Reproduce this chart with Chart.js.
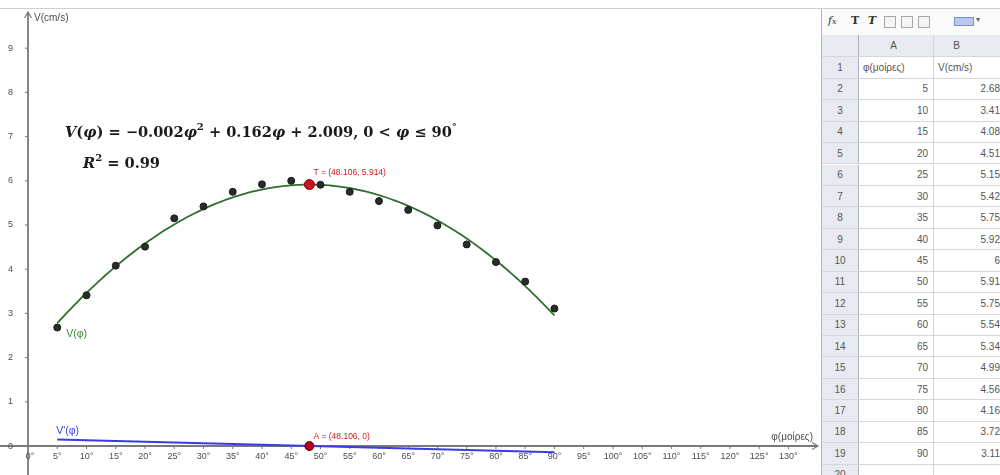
<!DOCTYPE html>
<html>
<head>
<meta charset="utf-8">
<script src="https://cdn.jsdelivr.net/npm/chart.js@4/dist/chart.umd.min.js"></script>
<style>
  html, body { margin: 0; padding: 0; background: #fff; width: 1000px; height: 475px; overflow: hidden; }
  body { position: relative; font-family: "Liberation Sans", Arial, sans-serif; }
  #topline { position: absolute; left: 0; top: 8px; width: 1000px; height: 1px; background: #cfcfcf; }
  #plot { position: absolute; left: 0; top: 0; width: 820px; height: 475px; }
  #plot canvas { display: block; }
  #sheet { position: absolute; left: 821px; top: 9px; width: 179px; height: 466px; border-left: 1px solid #b5b5b5; overflow: hidden; background: #fff; }
  .tb { position: absolute; top: 0; left: 0; width: 179px; height: 26px; background: #fafafa; border-bottom: 1px solid #c9c9c9; }
  .tb span { position: absolute; top: 5px; color: #333; }
  .tb .box { position: absolute; top: 7px; width: 10px; height: 10px; border: 1px solid #a9a9a9; background: #f4f4f4; }
  .row { position: absolute; left: 0; width: 179px; border-bottom: 1px solid #d6d6d6; font-size: 10px; color: #555; }
  .row div { position: absolute; top: 0; bottom: 0; box-sizing: border-box; white-space: nowrap; overflow: hidden; display: flex; align-items: center; }
  .rh { left: 0; width: 37px; background: #e7ebf1; border-right: 1px solid #a9b2c0; justify-content: center; }
  .ca { left: 37px; width: 75px; border-right: 1px solid #d6d6d6; justify-content: flex-end; padding-right: 5px; }
  .cb { left: 112px; width: 67px; justify-content: flex-end; padding-right: 1px; }
  .hdr div { background: #e7ebf1; justify-content: center; }
  .hdr .cb { padding-right: 22px; }
  .lft { justify-content: flex-start !important; padding-left: 4px; }
</style>
</head>
<body>
<div id="topline"></div>
<div id="plot"><canvas id="chart" width="820" height="475"></canvas></div>
<div id="sheet">
  <div class="tb">
    <span style="left:6px;font:italic 11px 'DejaVu Serif';">f<span style="position:static;font-size:8px;">x</span></span>
    <span style="left:29px;font:bold 11px 'DejaVu Serif';">T</span>
    <span style="left:46px;font:italic bold 11px 'DejaVu Serif';">T</span>
    <div class="box" style="left:62px;"></div>
    <div class="box" style="left:79px;"></div>
    <div class="box" style="left:96px;"></div>
    <div class="box" style="left:132px;width:18px;height:7px;top:8px;background:#bcc8ee;border-color:#7f8fc8;"></div>
    <span style="left:154px;top:6px;font-size:8px;color:#666;">▾</span>
  </div>
  <div id="cells"></div>
</div>
<script>
// Measurements: angle of the incline (degrees) and measured speed (cm/s)
const PHI = [5, 10, 15, 20, 25, 30, 35, 40, 45, 50, 55, 60, 65, 70, 75, 80, 85, 90];
const SPEED = [2.68, 3.41, 4.08, 4.51, 5.15, 5.42, 5.75, 5.92, 6, 5.91, 5.75, 5.54, 5.34, 4.99, 4.56, 4.16, 3.72, 3.11];

// Axis tick values
const X_TICKS = [0, 5, 10, 15, 20, 25, 30, 35, 40, 45, 50, 55, 60, 65, 70, 75, 80, 85, 90, 95, 100, 105, 110, 115, 120, 125, 130];
const Y_TICKS = [0, 1, 2, 3, 4, 5, 6, 7, 8, 9];

// Column headings of the spreadsheet
const COL_HEAD = ['φ(μοίρες)', 'V(cm/s)'];

// Named points: vertex T of the fitted parabola and its projection A on the φ axis
const T_POINT = { phi: 48.106, v: 5.914 };
const A_POINT = { phi: 48.106, v: 0 };

// Visible window of the graphics view
const VIEW = { xMin: -4.79, xMax: 135.4, yMin: -0.656, yMax: 10.09 };

// ---- spreadsheet ----
(function buildSheet() {
  const host = document.getElementById('cells');
  const HDR_TOP = 26, HDR_H = 22, ROW_TOP = 48.3, ROW_H = 21.44;
  const mk = (top, h, cls, cells) => {
    const r = document.createElement('div');
    r.className = 'row ' + cls;
    r.style.top = top + 'px';
    r.style.height = (h - 1) + 'px';
    cells.forEach(([c, t]) => {
      const d = document.createElement('div');
      d.className = c;
      d.textContent = t;
      r.appendChild(d);
    });
    host.appendChild(r);
  };
  mk(HDR_TOP, HDR_H, 'hdr', [['rh', ''], ['ca', 'A'], ['cb', 'B']]);
  mk(ROW_TOP, ROW_H, '', [['rh', '1'], ['ca lft', COL_HEAD[0]], ['cb lft', COL_HEAD[1]]]);
  PHI.forEach((p, i) => {
    mk(ROW_TOP + (i + 1) * ROW_H, ROW_H, '', [['rh', String(i + 2)], ['ca', String(p)], ['cb', String(SPEED[i])]]);
  });
  mk(ROW_TOP + (PHI.length + 1) * ROW_H, ROW_H, '', [['rh', String(PHI.length + 2)], ['ca', ''], ['cb', '']]);
})();

// ---- least-squares quadratic through the measurements ----
function quadFit(xs, ys) {
  const S = [0, 0, 0, 0, 0], R = [0, 0, 0];
  xs.forEach((x, i) => {
    let p = 1;
    for (let k = 0; k < 5; k++) { S[k] += p; if (k < 3) R[k] += ys[i] * p; p *= x; }
  });
  const M = [[S[0], S[1], S[2], R[0]], [S[1], S[2], S[3], R[1]], [S[2], S[3], S[4], R[2]]];
  for (let c = 0; c < 3; c++) {
    for (let r = c + 1; r < 3; r++) {
      const f = M[r][c] / M[c][c];
      for (let k = c; k < 4; k++) M[r][k] -= f * M[c][k];
    }
  }
  const sol = [0, 0, 0];
  for (let r = 2; r >= 0; r--) {
    let s = M[r][3];
    for (let k = r + 1; k < 3; k++) s -= M[r][k] * sol[k];
    sol[r] = s / M[r][r];
  }
  return { c: sol[0], b: sol[1], a: sol[2] };
}
const FIT = quadFit(PHI, SPEED);
const V = p => FIT.a * p * p + FIT.b * p + FIT.c;
const dV = p => 2 * FIT.a * p + FIT.b;

const curve = [];
for (let p = PHI[0]; p <= PHI[PHI.length - 1] + 1e-9; p += 0.5) curve.push({ x: p, y: V(p) });
const slope = [PHI[0], PHI[PHI.length - 1]].map(p => ({ x: p, y: dV(p) }));

// ---- colours and fonts ----
const AXIS = '#7a7a7a';
const TICK_FONT = '9px "Liberation Sans", Arial, sans-serif';
const GREEN = '#2f6f2f';
const BLUE = '#3b3be6';
const RED = '#d01818';

const axesPlugin = {
  id: 'geoAxes',
  beforeDatasetsDraw(chart) {
    const { ctx, chartArea: ca, scales: { x, y } } = chart;
    const x0 = x.getPixelForValue(0), y0 = y.getPixelForValue(0);
    ctx.save();
    ctx.strokeStyle = AXIS;
    ctx.fillStyle = AXIS;
    ctx.lineWidth = 1.8;
    const xEnd = ca.right - 2, yEnd = ca.top + 12;
    ctx.beginPath();
    ctx.moveTo(ca.left, y0); ctx.lineTo(xEnd, y0);
    ctx.moveTo(x0, ca.bottom); ctx.lineTo(x0, yEnd);
    ctx.stroke();
    // arrow heads
    ctx.lineWidth = 1.2;
    ctx.beginPath();
    ctx.moveTo(xEnd - 6, y0 - 3.5); ctx.lineTo(xEnd, y0); ctx.lineTo(xEnd - 6, y0 + 3.5);
    ctx.moveTo(x0 - 3.5, yEnd + 6); ctx.lineTo(x0, yEnd); ctx.lineTo(x0 + 3.5, yEnd + 6);
    ctx.stroke();
    // ticks and labels
    ctx.font = TICK_FONT;
    ctx.fillStyle = '#4d4d4d';
    ctx.lineWidth = 1;
    ctx.textAlign = 'center';
    ctx.textBaseline = 'middle';
    X_TICKS.forEach(v => {
      const px = x.getPixelForValue(v);
      if (v !== 0) { ctx.beginPath(); ctx.moveTo(px, y0); ctx.lineTo(px, y0 + 3); ctx.stroke(); }
      ctx.fillText(v + '°', px + (v === 0 ? 2 : 0), y0 + 11);
    });
    ctx.textAlign = 'right';
    Y_TICKS.forEach(v => {
      const py = y.getPixelForValue(v);
      if (v !== 0) { ctx.beginPath(); ctx.moveTo(x0 - 3, py); ctx.lineTo(x0, py); ctx.stroke(); }
      ctx.fillText(String(v), x0 - 15, py + (v === 0 ? 1 : 0));
    });
    // axis titles
    ctx.font = '10px "Liberation Sans", Arial, sans-serif';
    ctx.textAlign = 'left';
    ctx.textBaseline = 'alphabetic';
    ctx.fillText('V(cm/s)', x0 + 6, ca.top + 21);
    ctx.textAlign = 'right';
    ctx.fillText('φ(μοίρες)', xEnd - 5, y0 - 6);
    ctx.restore();
  }
};

function drawRich(ctx, x, y, parts) {
  parts.forEach(([t, f, dy]) => {
    ctx.font = f;
    ctx.fillText(t, x, y + (dy || 0));
    x += ctx.measureText(t).width;
  });
}

const labelPlugin = {
  id: 'geoLabels',
  afterDatasetsDraw(chart) {
    const { ctx, scales: { x, y } } = chart;
    ctx.save();
    ctx.textAlign = 'left';
    ctx.textBaseline = 'alphabetic';
    // regression formula and coefficient of determination
    const B = 'bold 14.6px "DejaVu Serif"', I = 'italic bold 14.6px "DejaVu Serif"', S = 'bold 10px "DejaVu Serif"';
    ctx.fillStyle = '#1a1a1a';
    drawRich(ctx, 65, 137, [
      ['V', I], ['(', B], ['φ', I], [')', B], [' = −0.002', B], ['φ', I], ['2', S, -7],
      [' + 0.162', B], ['φ', I], [' + 2.009, 0 < ', B], ['φ', I], [' ≤ 90', B], ['°', S, -7]
    ]);
    drawRich(ctx, 83, 168, [['R', I], ['2', S, -7], [' = 0.99', B]]);

    ctx.font = '8.5px "Liberation Sans", Arial, sans-serif';
    ctx.fillStyle = RED;
    const tx = x.getPixelForValue(T_POINT.phi), ty = y.getPixelForValue(T_POINT.v);
    ctx.fillText('T = (48.106, 5.914)', tx + 4, ty - 10);
    const ax = x.getPixelForValue(A_POINT.phi), ay = y.getPixelForValue(A_POINT.v);
    ctx.fillText('A = (48.106, 0)', ax + 4, ay - 7);

    ctx.font = '10.5px "Liberation Sans", Arial, sans-serif';
    ctx.fillStyle = '#3f8a3f';
    const gx = x.getPixelForValue(PHI[0]), gy = y.getPixelForValue(V(PHI[0]));
    ctx.fillText('V(φ)', gx + 9, gy + 14);
    ctx.fillStyle = BLUE;
    const bx = x.getPixelForValue(PHI[0]), by = y.getPixelForValue(dV(PHI[0]));
    ctx.fillText("V'(φ)", bx - 1, by - 6);
    ctx.restore();
  }
};

new Chart(document.getElementById('chart'), {
  type: 'scatter',
  data: {
    datasets: [
      { label: 'T', data: [{ x: T_POINT.phi, y: T_POINT.v }], pointRadius: 5, backgroundColor: '#cc1020', borderColor: '#8a0010', borderWidth: 1 },
      { label: 'A', data: [{ x: A_POINT.phi, y: A_POINT.v }], pointRadius: 4.5, backgroundColor: '#b00018', borderColor: '#700010', borderWidth: 1 },
      { label: 'measurements', data: PHI.map((p, i) => ({ x: p, y: SPEED[i] })), pointRadius: 3.5, backgroundColor: '#2b2b2b', borderColor: '#1a1a1a', borderWidth: 1 },
      { label: 'V(φ)', data: curve, showLine: true, pointRadius: 0, borderColor: GREEN, borderWidth: 1.8, tension: 0 },
      { label: "V'(φ)", data: slope, showLine: true, pointRadius: 0, borderColor: BLUE, borderWidth: 2 }
    ]
  },
  options: {
    responsive: false,
    animation: false,
    events: [],
    layout: { padding: 0, autoPadding: false },
    plugins: { legend: { display: false }, tooltip: { enabled: false } },
    scales: {
      x: { type: 'linear', display: false, min: VIEW.xMin, max: VIEW.xMax },
      y: { type: 'linear', display: false, min: VIEW.yMin, max: VIEW.yMax }
    }
  },
  plugins: [axesPlugin, labelPlugin]
});
</script>
</body>
</html>
